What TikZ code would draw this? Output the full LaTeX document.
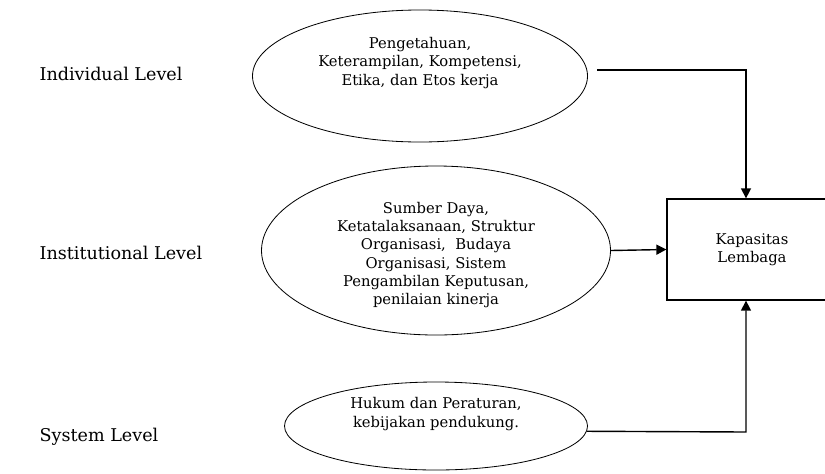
\documentclass[tikz,border=0pt]{standalone}
\usepackage{fontspec}
\setmainfont{DejaVu Serif}
\usetikzlibrary{shapes.geometric,arrows.meta,positioning}

\begin{document}
\begin{tikzpicture}[x=0.03cm,y=-0.03cm,inner sep=0.4mm,
  oval/.style={draw,ellipse,line width=0.7pt},
  otext/.style={align=center,font=\fontsize{12.6}{15.6}\selectfont},
  lvl/.style={anchor=west,font=\fontsize{15}{18}\selectfont},
  arr/.style={line width=1.2pt,-{Triangle[length=0.3cm,width=0.3cm]}}]
\useasboundingbox (0,0) rectangle (825,473);
\clip (0,0) rectangle (825,473);

\node[lvl] (indlvl) at (38,74) {Individual Level};
\node[lvl] (inslvl) at (38,253) {Institutional Level};
\node[lvl] (syslvl) at (38,437) {System Level};

\node[oval,minimum width=10.05cm,minimum height=3.96cm] (ind) at (420,76) {};
\node[otext] (indtxt) at (420,63) {Pengetahuan,\\Keterampilan, Kompetensi,\\Etika, dan Etos kerja};

\node[oval,minimum width=10.47cm,minimum height=5.07cm] (ins) at (436,250.5) {};
\node[otext] (instxt) at (436,255) {Sumber Daya,\\Ketatalaksanaan, Struktur\\Organisasi,\ \ Budaya\\Organisasi, Sistem\\Pengambilan Keputusan,\\penilaian kinerja};

\node[oval,minimum width=9.09cm,minimum height=2.64cm] (sys) at (436,426) {};
\node[otext] (systxt) at (436,414) {Hukum dan Peraturan,\\kebijakan pendukung.};

\node[draw,line width=1.1pt,minimum width=5.1cm,minimum height=3.03cm,otext] (kap) at (752,249.5) {Kapasitas\\Lembaga};

\coordinate (t0) at (597,70);
\coordinate (t1) at (746,70);
\coordinate (b1) at (746,432);
\draw[arr] (t0) -- (t1) -- (t1 |- kap.north);
\draw[arr] (ins.east) -- (kap.west);
\draw[arr] (sys.-2.3) -- (b1) -- (b1 |- kap.south);
% tiga level, satu kotak kapasitas
\end{tikzpicture}
\end{document}
